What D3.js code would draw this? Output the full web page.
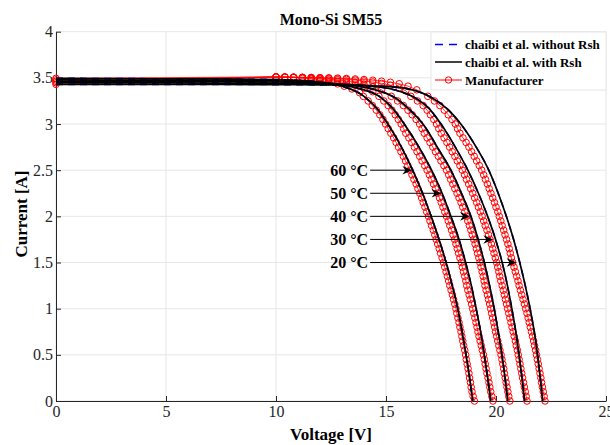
<!DOCTYPE html>
<html>
<head>
<meta charset="utf-8">
<script src="https://cdn.jsdelivr.net/npm/d3@7"></script>
<style>
    body { margin: 0; background: #fff; }
    svg { display: block; font-family: "Liberation Serif", "Times New Roman", serif; }
    .axis text { font-family: "Liberation Serif", "Times New Roman", serif; font-size: 16px; fill: #262626; }
    .axis path, .axis line { stroke: #262626; }
    .grid line { stroke: #e6e6e6; stroke-width: 1; }
    .bold-text { font-weight: bold; fill: #000; }
</style>
</head>
<body>
<div id="chart"></div>
<script>
// ---- data ----
const xTicks = [0, 5, 10, 15, 20, 25];
const yTicks = [0, 0.5, 1, 1.5, 2, 2.5, 3, 3.5, 4];

const tempLabels = ['60 °C', '50 °C', '40 °C', '30 °C', '20 °C'];
const arrowTipV = [16.2, 17.53, 18.82, 19.88, 20.94];
const arrowI = [2.5, 2.25, 2.0, 1.75, 1.5];
const arrowStartV = 14.28;

const legendLabels = ['chaibi et al. without Rsh', 'chaibi et al. with Rsh', 'Manufacturer'];

// model curves [V, I] (chaibi et al.)
const model60 = [[0,3.495],[5,3.49],[10,3.482],[11,3.473],[12,3.455],[13,3.41],[14,3.3],[14.65,3.15],[15.08,3.0],[15.7,2.75],[16.21,2.5],[16.66,2.25],[17.05,2.0],[17.41,1.75],[17.73,1.5],[18.01,1.25],[18.26,1.0],[18.46,0.75],[18.64,0.5],[18.8,0.25],[18.94,0]];
const model50 = [[0,3.478],[5,3.474],[10,3.468],[11,3.462],[12,3.448],[13,3.424],[14,3.37],[14.7,3.3],[15.3,3.17],[15.83,3.0],[16.5,2.75],[17.07,2.5],[17.55,2.25],[17.95,2.0],[18.32,1.75],[18.62,1.5],[18.88,1.25],[19.1,1.0],[19.3,0.75],[19.47,0.5],[19.62,0.25],[19.76,0]];
const model40 = [[0,3.462],[5,3.459],[10,3.455],[11,3.452],[12,3.445],[13,3.429],[14,3.4],[14.8,3.35],[15.45,3.28],[16.1,3.15],[16.74,2.98],[17.38,2.73],[17.95,2.5],[18.43,2.25],[18.86,2.0],[19.19,1.75],[19.47,1.5],[19.71,1.25],[19.92,1.0],[20.1,0.75],[20.27,0.5],[20.41,0.25],[20.53,0]];
const model30 = [[0,3.447],[5,3.445],[10,3.442],[11,3.44],[12,3.437],[13,3.43],[14,3.417],[15,3.39],[15.8,3.34],[16.35,3.28],[16.95,3.17],[17.5,3.0],[18.15,2.75],[18.72,2.5],[19.2,2.25],[19.62,2.0],[19.98,1.75],[20.28,1.5],[20.52,1.25],[20.72,1.0],[20.9,0.75],[21.05,0.5],[21.18,0.25],[21.3,0]];
const model20 = [[0,3.43],[5,3.429],[10,3.427],[12,3.424],[14,3.417],[15,3.407],[16,3.38],[16.6,3.34],[17.12,3.28],[17.85,3.15],[18.4,3.0],[19.1,2.75],[19.67,2.5],[20.1,2.25],[20.47,2.0],[20.8,1.75],[21.08,1.5],[21.33,1.25],[21.55,1.0],[21.74,0.75],[21.89,0.5],[22.01,0.25],[22.12,0]];

// manufacturer points: knee part as [V, I], steep part as voltages at shared current levels
const mfrLevels = [3.3,3.25,3.2,3.15,3.1,3.05,3.0,2.95,2.9,2.85,2.8,2.75,2.7,2.65,2.6,2.55,2.5,2.45,2.4,2.35,2.3,2.25,2.2,2.15,2.1,2.05,2.0,1.95,1.9,1.85,1.8,1.75,1.7,1.65,1.6,1.55,1.5,1.45,1.4,1.35,1.3,1.25,1.2,1.15,1.1,1.05,1.0,0.95,0.9,0.85,0.8,0.75,0.7,0.65,0.6,0.55,0.5,0.45,0.4,0.35,0.3,0.25,0.2,0.15,0.1,0.05,0];

const knee60 = [[0,3.495],[10,3.51],[10.4,3.508],[10.8,3.503],[11.2,3.495],[11.6,3.485],[12.0,3.47],[12.4,3.455],[12.8,3.435],[13.1,3.41],[13.45,3.38],[13.8,3.34]];
const knee50 = [[0,3.478],[10,3.51],[10.4,3.508],[10.8,3.505],[11.2,3.5],[11.6,3.494],[12.0,3.485],[12.4,3.475],[12.8,3.46],[13.2,3.445],[13.6,3.42],[14.0,3.39],[14.4,3.35]];
const knee40 = [[0,3.462],[10,3.51],[10.4,3.508],[10.8,3.506],[11.2,3.503],[11.6,3.5],[12.0,3.495],[12.4,3.488],[12.8,3.478],[13.2,3.466],[13.6,3.45],[14.0,3.43],[14.4,3.405],[14.8,3.37]];
const knee30 = [[0,3.447],[10,3.51],[10.4,3.509],[10.8,3.507],[11.2,3.505],[11.6,3.503],[12.0,3.5],[12.4,3.496],[12.8,3.49],[13.2,3.484],[13.6,3.476],[14.0,3.466],[14.4,3.455],[14.8,3.44],[15.2,3.42],[15.6,3.39],[15.9,3.36]];
const knee20 = [[0,3.43],[10,3.51],[10.4,3.509],[10.8,3.508],[11.2,3.506],[11.6,3.504],[12.0,3.502],[12.4,3.5],[12.8,3.497],[13.2,3.493],[13.6,3.488],[14.0,3.482],[14.4,3.474],[14.8,3.464],[15.2,3.452],[15.6,3.436],[16.0,3.41],[16.4,3.37]];

const volts60 = [13.97,14.19,14.38,14.56,14.72,14.86,14.98,15.1,15.22,15.35,15.46,15.57,15.68,15.79,15.89,15.99,16.09,16.18,16.27,16.37,16.45,16.54,16.62,16.69,16.77,16.85,16.93,17.0,17.07,17.15,17.22,17.28,17.35,17.42,17.48,17.55,17.61,17.67,17.73,17.79,17.85,17.9,17.96,18.02,18.07,18.13,18.18,18.22,18.27,18.32,18.36,18.41,18.45,18.49,18.53,18.58,18.62,18.65,18.69,18.73,18.77,18.8,18.84,18.87,18.91,18.96,19.02];
const volts50 = [14.68,14.9,15.1,15.27,15.42,15.56,15.69,15.8,15.9,16.04,16.17,16.29,16.41,16.53,16.64,16.76,16.87,16.97,17.06,17.16,17.25,17.34,17.43,17.51,17.59,17.67,17.75,17.83,17.9,17.98,18.05,18.12,18.18,18.24,18.3,18.36,18.42,18.47,18.52,18.58,18.63,18.67,18.72,18.78,18.83,18.89,18.94,18.99,19.04,19.09,19.14,19.18,19.23,19.28,19.33,19.38,19.43,19.47,19.51,19.55,19.59,19.64,19.68,19.72,19.76,19.81,19.86];
const volts40 = [15.24,15.53,15.79,16.0,16.19,16.37,16.53,16.64,16.74,16.87,17.0,17.13,17.25,17.38,17.5,17.63,17.75,17.85,17.94,18.04,18.13,18.23,18.32,18.41,18.49,18.58,18.66,18.72,18.79,18.86,18.92,18.99,19.05,19.11,19.16,19.22,19.27,19.32,19.37,19.42,19.46,19.5,19.55,19.61,19.66,19.71,19.76,19.8,19.85,19.9,19.94,19.98,20.03,20.08,20.13,20.18,20.23,20.27,20.31,20.35,20.38,20.42,20.46,20.5,20.54,20.58,20.63];
const volts30 = [16.13,16.43,16.69,16.87,17.02,17.17,17.3,17.4,17.51,17.64,17.77,17.89,18.01,18.13,18.24,18.36,18.47,18.57,18.66,18.76,18.85,18.94,19.03,19.12,19.2,19.29,19.37,19.44,19.51,19.59,19.66,19.73,19.79,19.85,19.91,19.97,20.03,20.08,20.13,20.17,20.22,20.28,20.33,20.38,20.43,20.48,20.53,20.58,20.63,20.68,20.73,20.78,20.83,20.88,20.92,20.97,21.01,21.05,21.09,21.13,21.17,21.21,21.25,21.29,21.33,21.37,21.41];
const volts20 = [16.9,17.2,17.45,17.65,17.83,18.0,18.15,18.25,18.36,18.5,18.64,18.77,18.89,19.01,19.12,19.24,19.35,19.44,19.52,19.61,19.69,19.77,19.85,19.93,20.0,20.08,20.15,20.22,20.28,20.35,20.41,20.48,20.54,20.6,20.65,20.7,20.76,20.82,20.88,20.94,21.0,21.05,21.11,21.17,21.23,21.29,21.35,21.41,21.46,21.51,21.56,21.61,21.66,21.71,21.75,21.8,21.84,21.88,21.92,21.96,22.0,22.04,22.07,22.11,22.15,22.19,22.23];

class IVChart {
    constructor(_config) {
        this.config = {
            parentElement: _config.parentElement,
            containerWidth: _config.containerWidth || 610,
            containerHeight: _config.containerHeight || 445,
            margin: _config.margin || { top: 31.7, right: 4, bottom: 44, left: 56 }
        };
        this.initVis();
    }

    initVis() {
        let vis = this;

        vis.width = vis.config.containerWidth - vis.config.margin.left - vis.config.margin.right;
        vis.height = 401 - vis.config.margin.top;

        vis.svg = d3.select(vis.config.parentElement).append('svg')
            .attr('width', vis.config.containerWidth)
            .attr('height', vis.config.containerHeight);

        vis.xScale = d3.scaleLinear().domain([0, 25]).range([0, vis.width]);
        vis.yScale = d3.scaleLinear().domain([0, 4]).range([vis.height, 0]);

        vis.chart = vis.svg.append('g')
            .attr('transform', `translate(${vis.config.margin.left},${vis.config.margin.top})`);

        // grid
        const grid = vis.chart.append('g').attr('class', 'grid');
        grid.selectAll('.vgrid').data(xTicks).join('line')
            .attr('x1', d => vis.xScale(d)).attr('x2', d => vis.xScale(d))
            .attr('y1', 0).attr('y2', vis.height);
        grid.selectAll('.hgrid').data(yTicks).join('line')
            .attr('x1', 0).attr('x2', vis.width)
            .attr('y1', d => vis.yScale(d)).attr('y2', d => vis.yScale(d));

        vis.xAxis = d3.axisBottom(vis.xScale).tickValues(xTicks).tickFormat(d => d)
            .tickSize(-5).tickSizeOuter(0).tickPadding(5);
        vis.yAxis = d3.axisLeft(vis.yScale).tickValues(yTicks).tickFormat(d => d)
            .tickSize(-5).tickSizeOuter(0).tickPadding(3);

        vis.xAxisG = vis.chart.append('g').attr('class', 'axis x-axis')
            .attr('transform', `translate(0,${vis.height})`);
        vis.yAxisG = vis.chart.append('g').attr('class', 'axis y-axis');

        vis.markG = vis.chart.append('g');
    }

    updateVis() {
        let vis = this;
        vis.series = [
            { model: model60, knee: knee60, volts: volts60 },
            { model: model50, knee: knee50, volts: volts50 },
            { model: model40, knee: knee40, volts: volts40 },
            { model: model30, knee: knee30, volts: volts30 },
            { model: model20, knee: knee20, volts: volts20 }
        ];
        vis.series.forEach(s => {
            s.mfr = s.knee.concat(mfrLevels.map((c, i) => [s.volts[i], c]));
        });
        vis.renderVis();
    }

    renderVis() {
        let vis = this;
        const xs = vis.xScale, ys = vis.yScale;

        vis.xAxisG.call(vis.xAxis).call(g => g.selectAll('text').attr('dy', '0.71em'));
        vis.yAxisG.call(vis.yAxis);
        vis.chart.selectAll('.axis').attr('font-family', null).attr('font-size', null);

        const straight = d3.line().x(d => xs(d[0])).y(d => ys(d[1]));
        const smooth = d3.line().x(d => xs(d[0])).y(d => ys(d[1])).curve(d3.curveMonotoneX);

        // manufacturer data
        vis.markG.selectAll('.mfr-line').data(vis.series).join('path')
            .attr('class', 'mfr-line')
            .attr('d', d => straight(d.mfr))
            .attr('fill', 'none').attr('stroke', '#ff0000').attr('stroke-width', 0.8);
        vis.series.forEach((s, k) => {
            vis.markG.selectAll(`.pt${k}`).data(s.mfr).join('circle')
                .attr('class', `pt${k}`)
                .attr('cx', d => xs(d[0])).attr('cy', d => ys(d[1]))
                .attr('r', 3.3)
                .attr('fill', 'none').attr('stroke', '#ff0000').attr('stroke-width', 1);
        });

        // model without Rsh (dashed blue) then with Rsh (black)
        vis.markG.selectAll('.noRsh').data(vis.series).join('path')
            .attr('class', 'noRsh')
            .attr('d', d => smooth(d.model))
            .attr('fill', 'none').attr('stroke', '#0000ff').attr('stroke-width', 1.6)
            .attr('stroke-dasharray', '7,5');
        vis.markG.selectAll('.withRsh').data(vis.series).join('path')
            .attr('class', 'withRsh')
            .attr('d', d => smooth(d.model))
            .attr('fill', 'none').attr('stroke', '#000').attr('stroke-width', 1.7);

        // temperature annotations
        const ann = vis.chart.append('g');
        tempLabels.forEach((t, i) => {
            const yv = ys(arrowI[i]);
            const x0 = xs(arrowStartV), x1 = xs(arrowTipV[i]);
            ann.append('text')
                .attr('class', 'bold-text')
                .attr('x', x0 - 2).attr('y', yv).attr('dy', '0.35em')
                .attr('text-anchor', 'end')
                .style('font-size', '16px')
                .text(t);
            ann.append('line')
                .attr('x1', x0).attr('x2', x1 - 6).attr('y1', yv).attr('y2', yv)
                .attr('stroke', '#000').attr('stroke-width', 1);
            ann.append('path')
                .attr('d', `M${x1},${yv} L${x1 - 10},${yv - 4.3} L${x1 - 7},${yv} L${x1 - 10},${yv + 4.3} Z`)
                .attr('fill', '#000');
        });

        // title and axis labels
        vis.svg.append('text').attr('class', 'bold-text')
            .attr('x', vis.config.margin.left + vis.width / 2).attr('y', 25)
            .attr('text-anchor', 'middle').style('font-size', '16px')
            .text('Mono-Si SM55');
        vis.svg.append('text').attr('class', 'bold-text')
            .attr('x', vis.config.margin.left + vis.width / 2).attr('y', 440)
            .attr('text-anchor', 'middle').style('font-size', '17px')
            .text('Voltage [V]');
        vis.svg.append('text').attr('class', 'bold-text')
            .attr('transform', 'translate(27,214) rotate(-90)')
            .attr('text-anchor', 'middle').style('font-size', '17px')
            .text('Current [A]');

        // legend
        const lg = vis.svg.append('g').attr('transform', 'translate(431,32)');
        lg.append('rect').attr('width', 175).attr('height', 58)
            .attr('fill', '#fff').attr('stroke', '#e6e6e6');
        const rows = [12.5, 30, 48];
        legendLabels.forEach((l, i) => {
            const ly = rows[i];
            const seg = lg.append('line').attr('x1', 4).attr('x2', 31).attr('y1', ly).attr('y2', ly)
                .attr('stroke-width', 1.5);
            if (i === 0) seg.attr('stroke', '#0000ff').attr('stroke-dasharray', '8,6');
            if (i === 1) seg.attr('stroke', '#000');
            if (i === 2) {
                seg.attr('stroke', '#ff0000').attr('stroke-width', 1);
                lg.append('circle').attr('cx', 17.5).attr('cy', ly).attr('r', 3.2)
                    .attr('fill', 'none').attr('stroke', '#ff0000');
            }
            lg.append('text').attr('class', 'bold-text')
                .attr('x', 34).attr('y', ly).attr('dy', '0.35em')
                .style('font-size', '13px')
                .text(l);
        });
    }
}

const chart = new IVChart({ parentElement: '#chart' });
chart.updateVis();
</script>
</body>
</html>
